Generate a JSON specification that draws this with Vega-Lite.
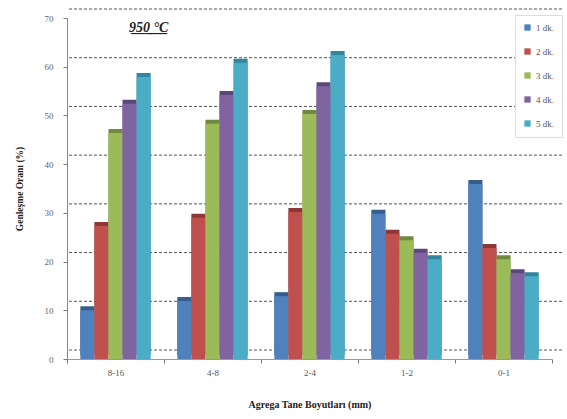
{
  "$schema": "https://vega.github.io/schema/vega-lite/v6.json",
  "width": 485,
  "height": 341,
  "autosize": {"type": "none"},
  "padding": {"left": 67, "top": 18, "right": 15, "bottom": 60},
  "background": "white",
  "title": {
    "text": "9̲5̲0̲ ̲°̲C̲",
    "anchor": "start",
    "dx": 115,
    "dy": 30,
    "font": "Liberation Serif",
    "fontSize": 14,
    "fontStyle": "italic",
    "fontWeight": "bold",
    "color": "#222"
  },
  "datasets": {
    "bars": [
      {"size": "8-16", "series": "1 dk.", "value": 10.0},
      {"size": "8-16", "series": "2 dk.", "value": 27.3},
      {"size": "8-16", "series": "3 dk.", "value": 46.4},
      {"size": "8-16", "series": "4 dk.", "value": 52.4},
      {"size": "8-16", "series": "5 dk.", "value": 57.9},
      {"size": "4-8", "series": "1 dk.", "value": 11.9},
      {"size": "4-8", "series": "2 dk.", "value": 29.0},
      {"size": "4-8", "series": "3 dk.", "value": 48.3},
      {"size": "4-8", "series": "4 dk.", "value": 54.2},
      {"size": "4-8", "series": "5 dk.", "value": 60.8},
      {"size": "2-4", "series": "1 dk.", "value": 12.9},
      {"size": "2-4", "series": "2 dk.", "value": 30.2},
      {"size": "2-4", "series": "3 dk.", "value": 50.3},
      {"size": "2-4", "series": "4 dk.", "value": 56.0},
      {"size": "2-4", "series": "5 dk.", "value": 62.4},
      {"size": "1-2", "series": "1 dk.", "value": 29.8},
      {"size": "1-2", "series": "2 dk.", "value": 25.7},
      {"size": "1-2", "series": "3 dk.", "value": 24.4},
      {"size": "1-2", "series": "4 dk.", "value": 21.8},
      {"size": "1-2", "series": "5 dk.", "value": 20.5},
      {"size": "0-1", "series": "1 dk.", "value": 35.9},
      {"size": "0-1", "series": "2 dk.", "value": 22.8},
      {"size": "0-1", "series": "3 dk.", "value": 20.5},
      {"size": "0-1", "series": "4 dk.", "value": 17.6},
      {"size": "0-1", "series": "5 dk.", "value": 17.0}
    ],
    "grid": [
      {"v": 0}, {"v": 10}, {"v": 20}, {"v": 30}, {"v": 40}, {"v": 50}, {"v": 60}, {"v": 70}
    ]
  },
  "layer": [
    {
      "data": {"name": "grid"},
      "mark": {"type": "rule", "strokeDash": [3, 2], "color": "#555", "strokeWidth": 1, "xOffset": 10, "x2Offset": 10, "yOffset": -9, "y2Offset": -9},
      "encoding": {
        "y": {
          "field": "v", "type": "quantitative",
          "scale": {"domain": [0, 70]},
          "axis": {
            "title": "Genleşme Oranı (%)",
            "values": [0, 10, 20, 30, 40, 50, 60, 70],
            "grid": false,
            "tickSize": 4,
            "tickColor": "#777",
            "domainColor": "#888",
            "labelFont": "Liberation Serif",
            "labelFontSize": 9,
            "labelColor": "#666",
            "labelPadding": 10,
            "titleFont": "Liberation Serif",
            "titleFontSize": 9.5,
            "titleFontWeight": "bold",
            "titleColor": "#222",
            "titlePadding": 20
          }
        }
      }
    },
    {
      "data": {"name": "bars"},
      "mark": {"type": "bar", "xOffset": 4, "yOffset": -4, "y2Offset": -4},
      "encoding": {
        "x": {
          "field": "size", "type": "nominal", "sort": null,
          "scale": {"paddingInner": 0, "paddingOuter": 0},
          "axis": {
            "title": "Agrega Tane Boyutları (mm)",
            "labelAngle": 0,
            "tickBand": "extent",
            "tickSize": 4,
            "tickColor": "#777",
            "domainColor": "#999",
            "labelFont": "Liberation Serif",
            "labelFontSize": 9,
            "labelColor": "#555",
            "labelPadding": 5,
            "titleFont": "Liberation Serif",
            "titleFontSize": 10,
            "titleFontWeight": "bold",
            "titleColor": "#222",
            "titlePadding": 22
          }
        },
        "xOffset": {"field": "series", "type": "nominal", "scale": {"paddingInner": 0, "paddingOuter": 0.95}},
        "y": {"field": "value", "type": "quantitative"},
        "color": {
          "field": "series", "type": "nominal",
          "scale": {"range": ["#385D8A", "#8C3836", "#71893F", "#5C4776", "#31859C"]},
          "legend": null
        }
      }
    },
    {
      "data": {"name": "bars"},
      "mark": {"type": "bar"},
      "encoding": {
        "x": {"field": "size", "type": "nominal", "sort": null},
        "xOffset": {"field": "series", "type": "nominal"},
        "y": {"field": "value", "type": "quantitative"},
        "color": {
          "field": "series", "type": "nominal",
          "scale": {"range": ["#4F81BD", "#C0504D", "#9BBB59", "#8064A2", "#4BACC6"]},
          "legend": {
            "title": null,
            "orient": "none",
            "legendX": 448,
            "legendY": -3,
            "symbolType": "square",
            "symbolSize": 40,
            "symbolStrokeWidth": 0,
            "labelFont": "Liberation Serif",
            "labelFontSize": 9,
            "labelColor": "#555",
            "rowPadding": 14,
            "padding": 8,
            "strokeColor": "#ddd",
            "fillColor": "white"
          }
        }
      }
    }
  ],
  "resolve": {"scale": {"color": "independent"}},
  "config": {"view": {"stroke": null}}
}
